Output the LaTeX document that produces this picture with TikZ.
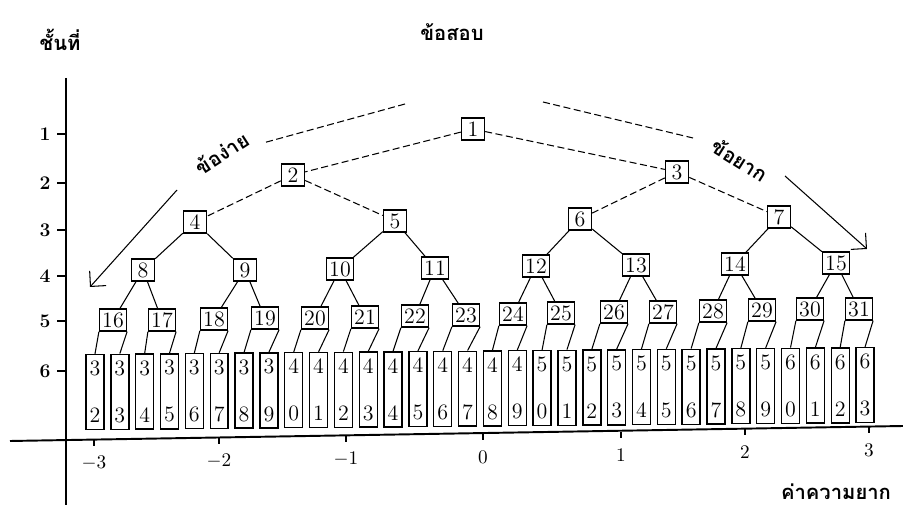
\documentclass[tikz,border=0pt]{standalone}
\usepackage{fontspec}
\usepackage{tikz}
\usetikzlibrary{arrows.meta, calc}
\newfontfamily\thaifont[Script=Thai]{Loma}

\tikzset{
    item/.style={draw, thick, fill=white, minimum width=0.46cm, minimum height=0.44cm, inner sep=1.5pt, font=\fontsize{12.5}{14}\selectfont},
    column/.style={draw, thick, minimum width=0.36cm, minimum height=1.5cm, inner sep=1pt, align=center, font=\fontsize{12.5}{14}\selectfont},
    link/.style={semithick},
    dashlink/.style={semithick, dash pattern=on 4pt off 2pt},
    axisline/.style={line width=1.1pt},
    thai/.style={font=\thaifont\bfseries\fontsize{11.5}{13}\selectfont},
    numlabel/.style={font=\fontsize{11}{13}\selectfont\bfseries}
}

\begin{document}
\begin{tikzpicture}[x=0.02cm, y=-0.02cm]
    \useasboundingbox (0,0) rectangle (903,509);

    % Axes
    \draw[axisline] (66,78) -- (66,505);
    \draw[axisline] (10,441) -- (903,426);
    \foreach \lv/\y in {1/134, 2/183, 3/230, 4/276, 5/321, 6/371} {
        \draw[semithick] (57,\y) -- (66,\y);
        \node[numlabel] (lv\lv) at (45,\y) {\lv};
    }
    \foreach \v/\x/\y in {-3/94/440, -2/219/438, -1/346/436, 0/483/434, 1/621/432, 2/745/429, 3/869/427} {
        \draw[semithick] (\x,\y) -- (\x,\y+6);
        \node[numlabel] (tick\x) at (\x,\y+23) {$\v$};
    }

    % Titles
    \node[thai] (level) at (60,40) {ชั้นที่};
    \node[thai] (title) at (452,32) {ข้อสอบ};
    \node[thai] (scale) at (836,492) {ค่าความยาก};

    % Bottom row
    \foreach \i in {0,...,31} {
        \pgfmathtruncatemacro\tens{(32+\i)/10}
        \pgfmathtruncatemacro\units{mod(32+\i,10)}
        \node[column] (c\i) at ({95+24.84*\i}, {392-0.22*\i}) {\tens\\[0.45cm]\units};
    }

    % Items
    \foreach \n/\x/\y in {1/473/129, 2/293/175, 3/677/172,
            4/195/222, 5/395/221, 6/580/219, 7/779/217,
            8/143/270, 9/245/270, 10/340/269, 11/435/268, 12/536/266, 13/636/265, 14/735/264, 15/836/263,
            16/113/320, 17/162/320, 18/214/319, 19/265/318, 20/315/318, 21/365/317, 22/415/316, 23/466/315,
            24/513/314, 25/561/313, 26/614/312, 27/663/312, 28/713/311, 29/762/310, 30/810/309, 31/859/309}
        \node[item] (n\n) at (\x,\y) {\n};

    % Branches
    \foreach \k in {1,2,3} {
        \pgfmathtruncatemacro\a{2*\k}
        \pgfmathtruncatemacro\b{2*\k+1}
        \draw[dashlink] (n\k) -- (n\a);
        \draw[dashlink] (n\k) -- (n\b);
    }
    \foreach \k in {4,...,15} {
        \pgfmathtruncatemacro\a{2*\k}
        \pgfmathtruncatemacro\b{2*\k+1}
        \draw[link] (n\k) -- (n\a);
        \draw[link] (n\k) -- (n\b);
    }
    \foreach \k in {16,...,31} {
        \pgfmathtruncatemacro\a{2*(\k-16)}
        \pgfmathtruncatemacro\b{2*(\k-16)+1}
        \draw[link] (n\k.south west) -- (c\a.north);
        \draw[link] (n\k.south east) -- (c\b.north);
    }

    % Easy and hard directions
    \coordinate (e1) at (405,104);
    \coordinate (e2) at (263,143);
    \coordinate (e3) at (177,190);
    \coordinate (e4) at (90,287);
    \draw[dashlink] (e1) -- (e2);
    \draw[link, -{Straight Barb[length=2.2mm]}] (e3) -- (e4);
    \node[thai, rotate=33] (easy) at (222,153) {ข้อง่าย};

    \coordinate (h1) at (543,102);
    \coordinate (h2) at (693,138);
    \coordinate (h3) at (785,176);
    \coordinate (h4) at (867,249);
    \draw[dashlink] (h1) -- (h2);
    \draw[link, -{Straight Barb[length=2.2mm]}] (h3) -- (h4);
    \node[thai, rotate=-32] (hard) at (740,160) {ข้อยาก};
\end{tikzpicture}
\end{document}
